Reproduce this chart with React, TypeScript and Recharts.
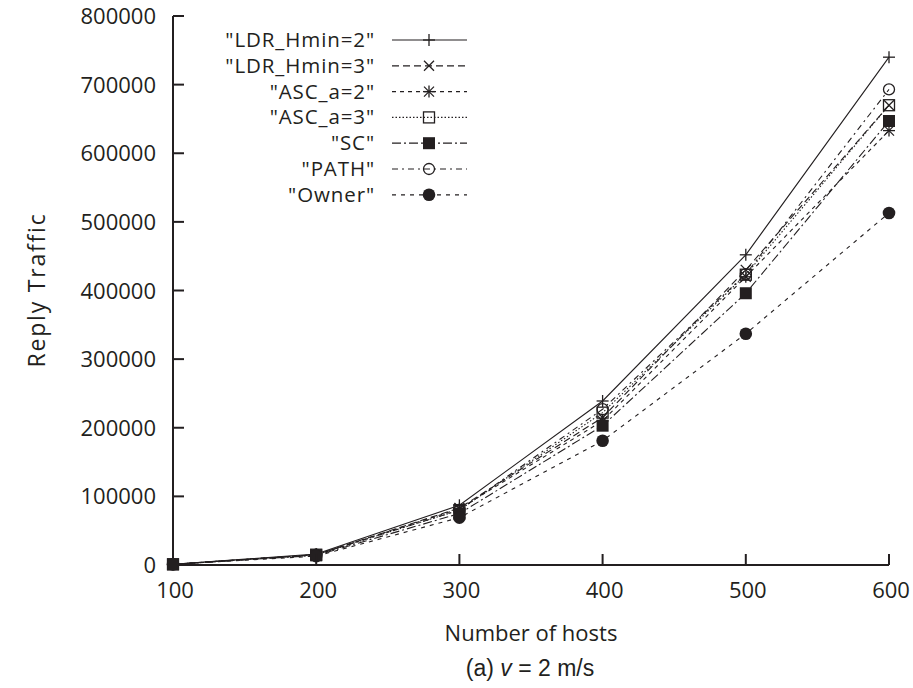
import React from "react";
import { LineChart, Line, XAxis, YAxis } from "recharts";

const hosts = [100, 200, 300, 400, 500, 600];
const ldrHmin2 = [1000, 16000, 87000, 239000, 452000, 740000];
const ldrHmin3 = [1000, 15000, 83000, 215000, 430000, 670000];
const ascA2 = [1000, 15000, 82000, 210000, 420000, 633000];
const ascA3 = [1000, 15000, 80000, 222000, 423000, 670000];
const sc = [1000, 14000, 75000, 203000, 396000, 647000];
const path = [1000, 15000, 80000, 227000, 424000, 693000];
const owner = [1000, 13000, 69000, 181000, 337000, 513000];

const xTicks = [100, 200, 300, 400, 500, 600];
const yTicks = [0, 100000, 200000, 300000, 400000, 500000, 600000, 700000, 800000];

const INK = "#231f20";
const FONT = "'Open Sans', 'Noto Sans', sans-serif";

type MarkerKind = "plus" | "cross" | "star" | "square" | "fsquare" | "circle" | "fcircle";

const series: { key: string; name: string; dash: string; marker: MarkerKind; values: number[] }[] = [
  { key: "ldr2", name: '"LDR_Hmin=2"', dash: "", marker: "plus", values: ldrHmin2 },
  { key: "ldr3", name: '"LDR_Hmin=3"', dash: "7 4", marker: "cross", values: ldrHmin3 },
  { key: "asc2", name: '"ASC_a=2"', dash: "4 4", marker: "star", values: ascA2 },
  { key: "asc3", name: '"ASC_a=3"', dash: "1.5 2", marker: "square", values: ascA3 },
  { key: "sc", name: '"SC"', dash: "9 3 2 3", marker: "fsquare", values: sc },
  { key: "path", name: '"PATH"', dash: "6 4 2 4", marker: "circle", values: path },
  { key: "owner", name: '"Owner"', dash: "4 5", marker: "fcircle", values: owner },
];

const data = hosts.map((h, i) => {
  const row: Record<string, number> = { hosts: h };
  series.forEach((s) => {
    row[s.key] = s.values[i];
  });
  return row;
});

function Marker({ kind, cx, cy }: { kind: MarkerKind; cx: number; cy: number }) {
  const sw = 1.3;
  switch (kind) {
    case "plus":
      return (
        <g stroke={INK} strokeWidth={sw}>
          <line x1={cx - 6} y1={cy} x2={cx + 6} y2={cy} />
          <line x1={cx} y1={cy - 6} x2={cx} y2={cy + 6} />
        </g>
      );
    case "cross":
      return (
        <g stroke={INK} strokeWidth={sw}>
          <line x1={cx - 5} y1={cy - 5} x2={cx + 5} y2={cy + 5} />
          <line x1={cx - 5} y1={cy + 5} x2={cx + 5} y2={cy - 5} />
        </g>
      );
    case "star":
      return (
        <g stroke={INK} strokeWidth={sw}>
          <line x1={cx - 6} y1={cy} x2={cx + 6} y2={cy} />
          <line x1={cx} y1={cy - 6} x2={cx} y2={cy + 6} />
          <line x1={cx - 5} y1={cy - 5} x2={cx + 5} y2={cy + 5} />
          <line x1={cx - 5} y1={cy + 5} x2={cx + 5} y2={cy - 5} />
        </g>
      );
    case "square":
      return <rect x={cx - 5.5} y={cy - 5.5} width={11} height={11} fill="none" stroke={INK} strokeWidth={sw} />;
    case "fsquare":
      return <rect x={cx - 6} y={cy - 6} width={12} height={12} fill={INK} stroke="none" />;
    case "circle":
      return <circle cx={cx} cy={cy} r={5.5} fill="none" stroke={INK} strokeWidth={sw} />;
    case "fcircle":
      return <circle cx={cx} cy={cy} r={6.3} fill={INK} stroke="none" />;
  }
  return null;
}

const TICK_LEN = 11;

function BottomTick(props: any) {
  const { x, y, payload } = props;
  return (
    <g>
      <line x1={x} y1={y} x2={x} y2={y - TICK_LEN} stroke={INK} strokeWidth={2} />
      <text x={x + 2} y={y + 33} textAnchor="middle" fontFamily={FONT} fontSize={22} fill={INK}>
        {payload.value}
      </text>
    </g>
  );
}

function TopTick(props: any) {
  const { x, y } = props;
  return <line x1={x} y1={y} x2={x} y2={y + TICK_LEN} stroke={INK} strokeWidth={2} />;
}

function LeftTick(props: any) {
  const { x, y, payload } = props;
  return (
    <g>
      <line x1={x} y1={y} x2={x + TICK_LEN} y2={y} stroke={INK} strokeWidth={2} />
      <text x={x - 17} y={y + 8} textAnchor="end" fontFamily={FONT} fontSize={22} fill={INK}>
        {payload.value}
      </text>
    </g>
  );
}

function RightTick(props: any) {
  const { x, y } = props;
  return <line x1={x} y1={y} x2={x - TICK_LEN} y2={y} stroke={INK} strokeWidth={2} />;
}

function LegendBox() {
  const rowH = 25.8;
  return (
    <svg width={300} height={190} style={{ position: "absolute", left: 190, top: 25 }}>
      {series.map((s, i) => {
        const y = 15 + i * rowH;
        return (
          <g key={s.key}>
            <text
              x={185}
              y={y + 7}
              textAnchor="end"
              fontFamily={FONT}
              fontSize={20.5}
              letterSpacing={0.9}
              fill={INK}
            >
              {s.name}
            </text>
            <line x1={202} y1={y} x2={277} y2={y} stroke={INK} strokeWidth={1.2} strokeDasharray={s.dash || undefined} />
            <Marker kind={s.marker} cx={239} cy={y} />
          </g>
        );
      })}
    </svg>
  );
}

export default function App() {
  return (
    <div style={{ position: "absolute", left: 0, top: 0, width: 913, height: 688, background: "#fff" }}>
      <LineChart width={913} height={688} data={data} margin={{ top: 16, right: 24, bottom: 83, left: 0 }}>
        <XAxis
          xAxisId="b"
          dataKey="hosts"
          type="number"
          domain={[100, 600]}
          ticks={xTicks}
          interval={0}
          height={40}
          tickSize={0}
          tickMargin={0}
          tickLine={false}
          axisLine={{ stroke: INK, strokeWidth: 2 }}
          tick={<BottomTick />}
        />
        <XAxis
          xAxisId="t"
          orientation="top"
          dataKey="hosts"
          type="number"
          domain={[100, 600]}
          ticks={xTicks}
          interval={0}
          height={0}
          tickSize={0}
          tickMargin={0}
          tickLine={false}
          axisLine={{ stroke: INK, strokeWidth: 2 }}
          tick={<TopTick />}
        />
        <YAxis
          yAxisId="l"
          type="number"
          domain={[0, 800000]}
          ticks={yTicks}
          interval={0}
          width={173}
          tickSize={0}
          tickMargin={0}
          tickLine={false}
          axisLine={{ stroke: INK, strokeWidth: 2 }}
          tick={<LeftTick />}
        />
        <YAxis
          yAxisId="r"
          orientation="right"
          type="number"
          domain={[0, 800000]}
          allowDataOverflow
          ticks={yTicks}
          interval={0}
          width={0}
          tickSize={0}
          tickMargin={0}
          tickLine={false}
          axisLine={{ stroke: INK, strokeWidth: 2 }}
          tick={<RightTick />}
        />
        {series.map((s) => (
          <Line
            key={s.key}
            xAxisId="b"
            yAxisId="l"
            dataKey={s.key}
            name={s.name}
            type="linear"
            stroke={INK}
            strokeWidth={1.1}
            strokeDasharray={s.dash || undefined}
            isAnimationActive={false}
            dot={(p: any) => <Marker key={`${s.key}-${p.index}`} kind={s.marker} cx={p.cx} cy={p.cy} />}
            activeDot={false}
          />
        ))}
      </LineChart>
      <LegendBox />
      <div
        style={{
          position: "absolute",
          left: 36,
          top: 290,
          transform: "translate(-50%, -50%) rotate(-90deg)",
          fontFamily: FONT,
          fontSize: 23,
          letterSpacing: 1.8,
          color: INK,
          whiteSpace: "nowrap",
        }}
      >
        Reply Traffic
      </div>
      <div
        style={{
          position: "absolute",
          left: 531,
          top: 632,
          transform: "translate(-50%, -50%)",
          fontFamily: FONT,
          fontSize: 22,
          color: INK,
          whiteSpace: "nowrap",
        }}
      >
        Number of hosts
      </div>
      <div
        style={{
          position: "absolute",
          left: 530,
          top: 668,
          transform: "translate(-50%, -50%)",
          fontFamily: "'Liberation Sans', Arial, sans-serif",
          fontSize: 23,
          color: INK,
          whiteSpace: "nowrap",
        }}
      >
        (a) <i>v</i> = 2 m/s
      </div>
    </div>
  );
}
